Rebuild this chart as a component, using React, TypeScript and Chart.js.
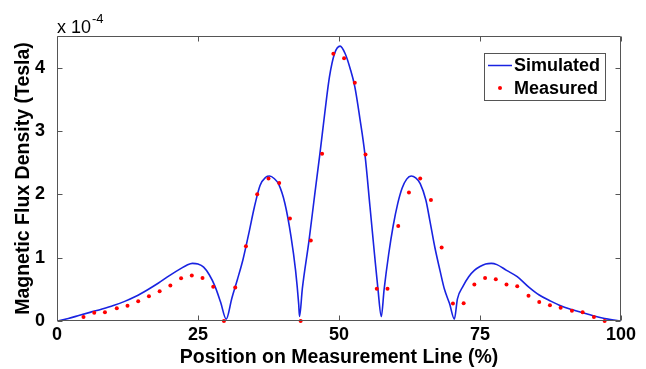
import { useEffect, useRef } from "react";
import { Chart, registerables } from "chart.js";

Chart.register(...registerables);

// ---- data (values in units of 10^-4 Tesla) ----
const SIM_X = [
  0, 2, 4, 6, 8, 10, 12, 14, 16, 18, 20, 22, 23, 24, 25, 26, 27, 28, 29, 30,
  31, 32, 33, 34, 35, 36, 37, 37.7, 38.5, 39.3, 40.4, 41.5, 42.3, 42.85, 43.0,
  43.5, 44.7, 45.7, 46.6, 47.5, 48.3, 49.2, 50.2, 51.1, 52.0, 52.8, 53.7, 54.6,
  55.5, 56.3, 56.9, 57.5, 58.0, 58.8, 59.6, 60.4, 61.2, 62.0, 62.8, 63.6, 64.4,
  65.4, 66.1, 67.0, 67.9, 68.7, 69.6, 70.45, 71.0, 72.0, 73.0, 74.0, 75.0, 76.0,
  77.0, 78.0, 79.7, 81.6, 83.6, 85.5, 87.4, 89.3, 91.3, 93.2, 95.2, 97.1, 100,
];
const SIM_Y = [
  0, 0.04, 0.09, 0.14, 0.19, 0.245, 0.31, 0.39, 0.49, 0.6, 0.72, 0.83, 0.88, 0.91, 0.9, 0.85, 0.73, 0.55, 0.3, 0.03,
  0.36, 0.66, 0.98, 1.38, 1.8, 2.14, 2.27, 2.29, 2.25, 2.16, 1.86, 1.33, 0.8, 0.27, 0.07,
  0.51, 1.28, 2.0, 2.63, 3.3, 3.85, 4.22, 4.34, 4.22, 3.98, 3.7, 3.2, 2.63,
  1.8, 1.05, 0.51, 0.07, 0.5, 1.05, 1.5, 1.85, 2.1, 2.24, 2.29, 2.26, 2.17,
  1.91, 1.59, 1.16, 0.8, 0.5, 0.275, 0.03, 0.35, 0.55, 0.7, 0.8, 0.86, 0.9,
  0.91, 0.89, 0.8, 0.7, 0.54, 0.41, 0.32, 0.24, 0.18, 0.13, 0.08, 0.04, 0,
];
const MEAS_X = [
  4.7, 6.6, 8.5, 10.6, 12.5, 14.4, 16.3, 18.2, 20.1, 22.0, 23.9, 25.8, 27.7, 29.6,
  31.6, 33.5, 35.5, 37.5, 39.4, 41.3, 43.2, 45.0, 47.0, 49.0, 50.9, 52.8, 54.7,
  56.7, 58.6, 60.5, 62.4, 64.4, 66.3, 68.2, 70.2, 72.1, 74.0, 75.9, 77.8, 79.7,
  81.6, 83.6, 85.5, 87.4, 89.3, 91.3, 93.2, 95.2, 97.1,
];
const MEAS_Y = [
  0.063, 0.13, 0.14, 0.2, 0.24, 0.31, 0.39, 0.47, 0.56, 0.675, 0.72, 0.68, 0.54, 0.0,
  0.53, 1.18, 2.0, 2.25, 2.18, 1.62, 0.0, 1.27, 2.64, 4.22, 4.15, 3.76, 2.63,
  0.51, 0.51, 1.5, 2.03, 2.25, 1.91, 1.16, 0.275, 0.28, 0.576, 0.68, 0.66, 0.576,
  0.55, 0.4, 0.3, 0.25, 0.21, 0.16, 0.14, 0.063, 0.0,
];
const X_TICKS = [0, 25, 50, 75, 100];
const Y_TICKS = [0, 1, 2, 3, 4];
const Y_MAX = 4.5;
const SERIES_NAMES = ["Simulated", "Measured"];
const X_TITLE = "Position on Measurement Line (%)";
const Y_TITLE = "Magnetic Flux Density (Tesla)";
const EXP_BASE = "x 10";
const EXP_POWER = "-4";

const FONT = "'Liberation Sans', Arial, Helvetica, sans-serif";
const BLUE = "rgb(25,35,225)";
const RED = "rgb(255,0,0)";
const FRAME = "#555555";

const decorPlugin = {
  id: "matlabDecor",
  afterDraw(chart: any) {
    const { ctx, chartArea: a } = chart;
    const xs = chart.scales.x;
    const ys = chart.scales.y;
    ctx.save();
    // frame
    ctx.strokeStyle = FRAME;
    ctx.lineWidth = 1;
    const L = Math.round(a.left) + 0.5;
    const R = Math.round(a.right) - 0.5;
    const T = Math.round(a.top) + 0.5;
    const B = Math.round(a.bottom) - 0.5;
    ctx.beginPath();
    ctx.rect(L, T, R - L, B - T);
    ctx.stroke();
    // inward tick marks
    const tl = 5;
    ctx.beginPath();
    for (const v of X_TICKS) {
      const px = Math.round(xs.getPixelForValue(v)) + 0.5;
      ctx.moveTo(px, B);
      ctx.lineTo(px, B - tl);
      ctx.moveTo(px, T);
      ctx.lineTo(px, T + tl);
    }
    for (const v of Y_TICKS) {
      const py = Math.round(ys.getPixelForValue(v)) + 0.5;
      ctx.moveTo(L, py);
      ctx.lineTo(L + tl, py);
      ctx.moveTo(R, py);
      ctx.lineTo(R - tl, py);
    }
    ctx.stroke();

    // exponent label
    ctx.fillStyle = "#000";
    ctx.textBaseline = "alphabetic";
    ctx.textAlign = "left";
    ctx.font = `18px ${FONT}`;
    ctx.fillText(EXP_BASE, a.left, 33);
    const w = ctx.measureText(EXP_BASE).width;
    ctx.font = `13px ${FONT}`;
    ctx.fillText(EXP_POWER, a.left + w + 1, 23);

    // legend
    const bx = 484.5, by = 53.5, bw = 121, bh = 47;
    ctx.fillStyle = "#fff";
    ctx.fillRect(bx, by, bw, bh);
    ctx.strokeStyle = FRAME;
    ctx.strokeRect(bx, by, bw, bh);
    const ds = chart.data.datasets;
    ctx.strokeStyle = ds[0].borderColor;
    ctx.lineWidth = 1.5;
    ctx.beginPath();
    ctx.moveTo(488, 65.5);
    ctx.lineTo(512, 65.5);
    ctx.stroke();
    ctx.fillStyle = ds[1].pointBackgroundColor;
    ctx.beginPath();
    ctx.arc(500, 88, 2, 0, Math.PI * 2);
    ctx.fill();
    ctx.fillStyle = "#000";
    ctx.font = `bold 18px ${FONT}`;
    ctx.textBaseline = "middle";
    ctx.fillText(ds[0].label, 514, 66);
    ctx.fillText(ds[1].label, 514, 89);
    ctx.restore();
  },
};

export default function App() {
  const ref = useRef<HTMLCanvasElement | null>(null);
  useEffect(() => {
    document.body.style.margin = "0";
    const canvas = ref.current;
    if (!canvas) return;
    const tickFont = { family: FONT, size: 18, weight: "bold" as const };
    const titleFont = { family: FONT, size: 19.5, weight: "bold" as const };
    const chart = new Chart(canvas, {
      type: "line",
      data: {
        datasets: [
          {
            label: SERIES_NAMES[0],
            data: SIM_X.map((x, i) => ({ x, y: SIM_Y[i] })),
            borderColor: BLUE,
            borderWidth: 1.6,
            pointRadius: 0,
            fill: false,
            cubicInterpolationMode: "monotone",
            order: 2,
          },
          {
            label: SERIES_NAMES[1],
            data: MEAS_X.map((x, i) => ({ x, y: MEAS_Y[i] })),
            showLine: false,
            borderColor: RED,
            backgroundColor: RED,
            pointBackgroundColor: RED,
            pointBorderWidth: 0,
            pointRadius: 2,
            clip: false as any,
            order: 1,
          },
        ],
      },
      options: {
        responsive: false,
        animation: false,
        devicePixelRatio: 1,
        layout: { padding: { top: 36, right: 25, left: 0, bottom: 0 } },
        plugins: { legend: { display: false }, tooltip: { enabled: false } },
        scales: {
          x: {
            type: "linear",
            min: 0,
            max: 100,
            afterBuildTicks: (s: any) => {
              s.ticks = X_TICKS.map((v) => ({ value: v }));
            },
            afterFit: (s: any) => {
              s.height = 48;
            },
            grid: { display: false },
            border: { display: false },
            ticks: {
              font: tickFont,
              color: "#000",
              padding: -5,
              maxRotation: 0,
              autoSkip: false,
              callback: (v: any) => String(v),
            },
            title: {
              display: true,
              text: X_TITLE,
              font: titleFont,
              color: "#000",
              padding: { top: 0, bottom: 0 },
            },
          },
          y: {
            type: "linear",
            min: 0,
            max: Y_MAX,
            afterBuildTicks: (s: any) => {
              s.ticks = Y_TICKS.map((v) => ({ value: v }));
            },
            afterFit: (s: any) => {
              s.width = 57;
            },
            grid: { display: false },
            border: { display: false },
            ticks: {
              font: tickFont,
              color: "#000",
              padding: 4,
              callback: (v: any) => String(v),
            },
            title: {
              display: true,
              text: Y_TITLE,
              font: titleFont,
              color: "#000",
              padding: { top: 12, bottom: 0 },
            },
          },
        },
      },
      plugins: [decorPlugin],
    });
    return () => chart.destroy();
  }, []);
  return (
    <div style={{ width: 646, height: 369, background: "#fff" }}>
      <canvas ref={ref} width={646} height={369} style={{ display: "block" }} />
    </div>
  );
}
